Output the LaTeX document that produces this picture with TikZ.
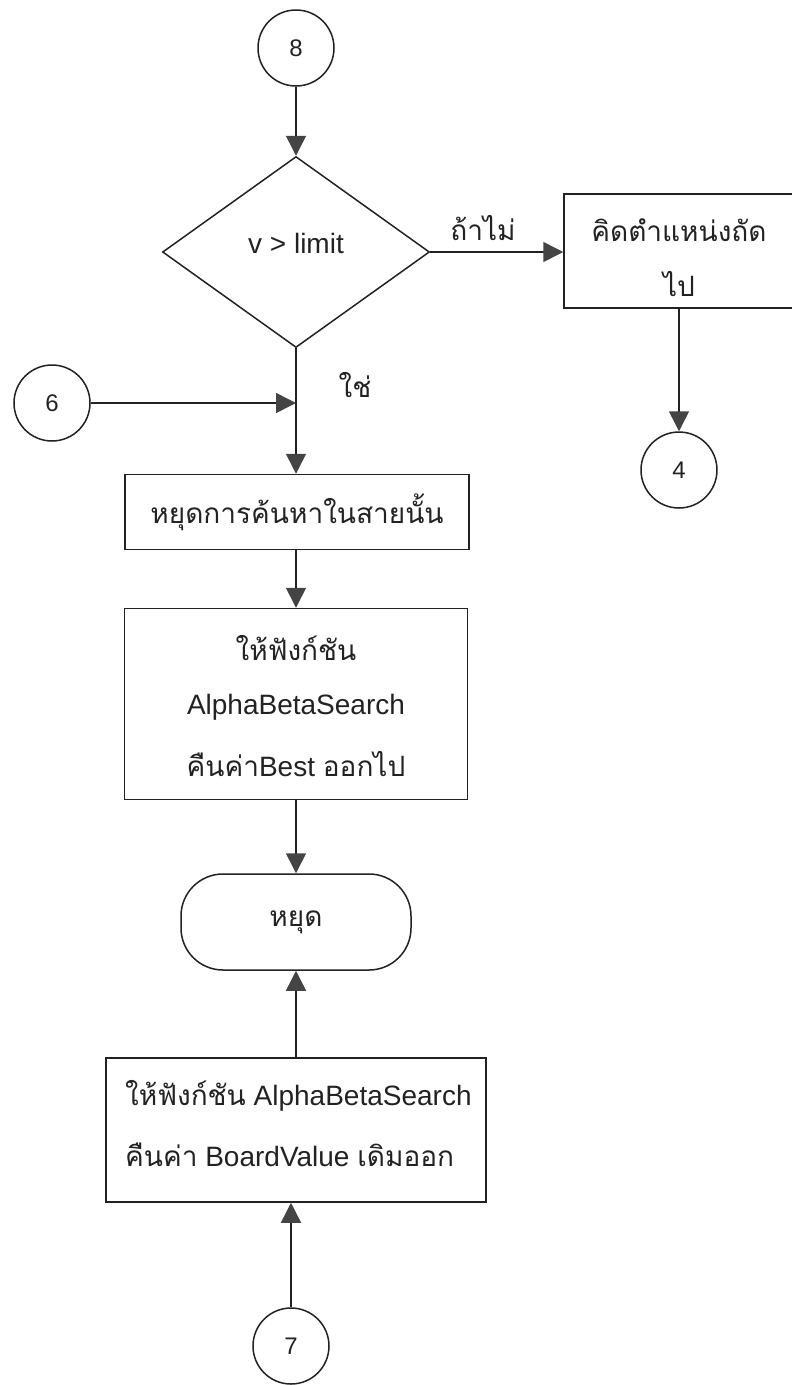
\documentclass[tikz,border=0pt]{standalone}
\usepackage{fontspec}
\setmainfont{Liberation Sans}
\newfontfamily\thai[Script=Thai]{Loma}
\usetikzlibrary{shapes.geometric,arrows.meta,positioning}
\definecolor{ink}{HTML}{222222}
\definecolor{tipc}{HTML}{444444}
\tikzset{
  every node/.style={font=\fontsize{28}{30}\selectfont, text=ink},
  conn/.style={circle, draw=ink, line width=1.5pt, minimum size=76pt, inner sep=0pt, font=\fontsize{24}{26}\selectfont},
  procbox/.style={rectangle, draw=ink, line width=1.5pt, inner sep=0pt, align=center},
  decbox/.style={diamond, draw=ink, line width=1.5pt, inner sep=0pt, minimum width=267pt, minimum height=191pt},
  termbox/.style={rectangle, rounded corners=42pt, draw=ink, line width=1.5pt, inner sep=0pt, minimum width=230pt, minimum height=96pt},
  flow/.style={draw=ink, line width=1.5pt, -{Triangle[length=20pt,width=20pt,color=tipc]}},
  plain/.style={draw=ink, line width=1.5pt},
  lbl/.style={inner sep=0pt}
}
\begin{document}
\begin{tikzpicture}[x=1pt,y=-1pt]
\useasboundingbox (0,0) rectangle (792,1385);
% connectors circles
\node[conn] (c8) at (296,48) {8};
\node[decbox] (dec) at (296,252) {};
\node[lbl] (dectext) at (296,243) {v > limit};
\node[procbox, minimum width=236pt, minimum height=114pt] (rbox) at (682,251) {};
\node[lbl] (rboxt1) at (679,230) {\thai คิดตำแหน่งถัด};
\node[lbl] (rboxt2) at (679,284) {\thai ไป};
\node[conn] (c4) at (679,470) {4};
\node[conn] (c6) at (52,403) {6};
\coordinate (j) at (296,403);
\node[procbox, minimum width=344pt, minimum height=75pt] (b1) at (297,512) {\thai หยุดการค้นหาในสายนั้น};
\node[procbox, minimum width=343pt, minimum height=191pt] (b2) at (296,704) {};
\node[lbl] (b2t1) at (296,648) {\thai ให้ฟังก์ชัน};
\node[lbl] (b2t2) at (296,707) {AlphaBetaSearch};
\node[lbl] (b2t3) at (296,764) {{\thai คืนค่า}Best {\thai ออกไป}};
\node[termbox] (term) at (296,922) {\thai หยุด};
\node[procbox, minimum width=380pt, minimum height=144pt] (b3) at (296,1130) {};
\node[lbl, anchor=west] (b3t1) at (125,1096) {{\thai ให้ฟังก์ชัน} AlphaBetaSearch};
\node[lbl, anchor=west] (b3t2) at (125,1155) {{\thai คืนค่า} BoardValue {\thai เดิมออก}};
\node[conn] (c7) at (291,1346) {7};
% labels
\node[lbl] (no) at (483,228) {\thai ถ้าไม่};
\node[lbl] (yes) at (355,385) {\thai ใช่};
% flow
\draw[flow] (c8) -- (dec.north);
\draw[flow] (dec.east) -- (rbox.west |- dec.east);
\draw[flow] (c4 |- rbox.south) -- (c4.north);
\draw[flow] (c6.east |- j) -- (j);
\draw[flow] (dec.south) -- (b1.north -| dec.south);
\draw[flow] (b1.south -| dec.south) -- (b2.north -| dec.south);
\draw[flow] (b2.south) -- (term.north);
\draw[flow] (b3.north) -- (term.south);
\draw[flow] (c7.north) -- (c7.north |- b3.south);
\end{tikzpicture}
\end{document}
